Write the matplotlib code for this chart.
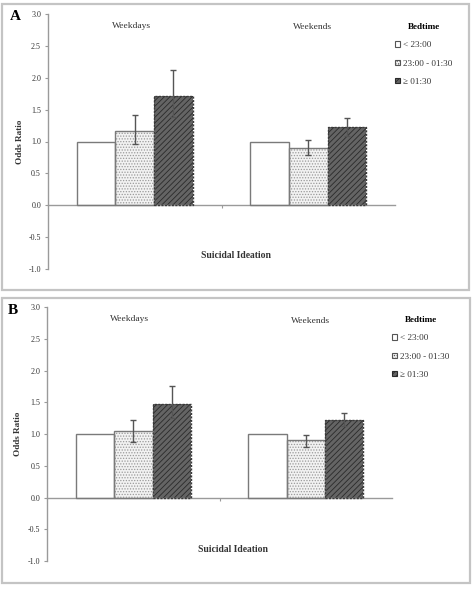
import matplotlib
matplotlib.use("Agg")
import matplotlib.pyplot as plt
from matplotlib.patches import Rectangle, Patch
import numpy as np

plt.rcParams['font.family'] = ['Liberation Serif', 'DejaVu Serif']
plt.rcParams['hatch.linewidth'] = 0.6

# ---- data ----
categories = ["Weekdays", "Weekends"]
bedtimes = ["< 23:00", "23:00 - 01:30", "\u2265 01:30"]
yticks = [-1.0, -0.5, 0.0, 0.5, 1.0, 1.5, 2.0, 2.5, 3.0]

# Panel A
a_or = [[1.00, 1.00], [1.17, 0.90], [1.71, 1.22]]
a_lo = [[None, None], [0.96, 0.79], [1.39, 1.08]]
a_hi = [[None, None], [1.41, 1.02], [2.12, 1.37]]
# Panel B
b_or = [[1.00, 1.00], [1.05, 0.90], [1.48, 1.23]]
b_lo = [[None, None], [0.88, 0.79], [1.25, 1.13]]
b_hi = [[None, None], [1.23, 0.99], [1.76, 1.34]]

W, H = 475, 590
fig = plt.figure(figsize=(W / 100, H / 100), dpi=100)

def fx(x):
    return x / W

def fy(y):
    return 1 - y / H

styles = [
    dict(facecolor="white", edgecolor="#7a7a7a", hatch=None),
    dict(facecolor="#f2f2f2", edgecolor="#9a9a9a", hatch="......"),
    dict(facecolor="#646464", edgecolor="#2a2a2a", hatch="//////"),
]

def panel(box, axpos, letter, letter_xy, vals, lo, hi, cat_xy, ylab_xy, xlab_xy, legend_xy):
    # border box
    x0, y0, x1, y1 = box
    fig.patches.append(Rectangle((fx(x0), fy(y1)), fx(x1 - x0), (y1 - y0) / H,
                                 transform=fig.transFigure, fill=False,
                                 edgecolor="#c4c4c4", linewidth=1.6, zorder=0))
    ax = fig.add_axes(axpos)
    ax.set_facecolor("none")
    xs = np.arange(len(categories))
    bw = 0.223
    for i in range(3):
        st = styles[i]
        pos = xs + (i - 1) * bw
        ax.bar(pos, vals[i], width=bw, color=st["facecolor"], edgecolor=st["edgecolor"],
               hatch=st["hatch"], linewidth=0, zorder=2)
        ax.bar(pos, vals[i], width=bw, fill=False,
               edgecolor="#7a7a7a" if i < 2 else "#3a3a3a",
               linewidth=1.0, linestyle="-" if i < 2 else (0, (1.5, 1)), zorder=3)
        if lo[i][0] is not None:
            l = np.array(lo[i], float)
            h = np.array(hi[i], float)
            v = np.array(vals[i], float)
            ax.errorbar(pos, v, yerr=[v - l, h - v], fmt="none", ecolor="#555555",
                        elinewidth=1.0, capsize=2, capthick=1.0, zorder=4)
    ax.set_xlim(-0.5, 1.5)
    ax.set_ylim(-1.0, 3.0)
    ax.set_yticks(yticks)
    ax.set_yticklabels([f"{t:.1f}" for t in yticks])
    ax.set_xticks([0.5])
    ax.set_xticklabels([])
    for s in ["top", "right"]:
        ax.spines[s].set_visible(False)
    ax.spines["bottom"].set_position(("data", 0))
    ax.spines["left"].set_color("#9a9a9a")
    ax.spines["bottom"].set_color("#9a9a9a")
    ax.spines["left"].set_linewidth(1.0)
    ax.spines["bottom"].set_linewidth(1.0)
    ax.tick_params(axis="y", length=2.5, width=0.8, color="#9a9a9a", labelsize=5.8,
                   labelcolor="#333333", pad=2.5)
    ax.tick_params(axis="x", length=2, width=0.8, color="#9a9a9a", direction="out")
    # labels
    fig.text(fx(letter_xy[0]), fy(letter_xy[1]), letter, fontsize=11, fontweight="bold",
             ha="center", va="center")
    for c, (cx, cy) in zip(categories, cat_xy):
        fig.text(fx(cx), fy(cy), c, fontsize=6.8, ha="center", va="center", color="#333333")
    fig.text(fx(ylab_xy[0]), fy(ylab_xy[1]), "Odds Ratio", fontsize=6.6, fontweight="bold",
             rotation=90, ha="center", va="center", color="#333333")
    fig.text(fx(xlab_xy[0]), fy(xlab_xy[1]), "Suicidal Ideation", fontsize=6.9,
             fontweight="bold", ha="center", va="center", color="#333333")
    handles = [Patch(facecolor=styles[i]["facecolor"], edgecolor=styles[i]["edgecolor"] if i == 2 else "#555555",
                     hatch=styles[i]["hatch"], linewidth=0.8) for i in range(3)]
    leg = fig.legend(handles, bedtimes, loc="upper left",
                     bbox_to_anchor=(fx(legend_xy[0]), fy(legend_xy[1])),
                     frameon=False, fontsize=6.6, title="Bedtime",
                     title_fontproperties={"weight": "bold", "size": 6.6},
                     handlelength=0.55, handleheight=0.55, handletextpad=0.35,
                     labelspacing=1.12, borderpad=0, borderaxespad=0)
    leg._legend_box.align = "center"
    for t in leg.get_texts():
        t.set_color("#333333")
    return ax

panel(box=(2, 4, 469, 290),
      axpos=[fx(48), fy(269), fx(395 - 48), (269 - 14) / H],
      letter="A", letter_xy=(15, 17), vals=a_or, lo=a_lo, hi=a_hi,
      cat_xy=[(132, 26), (313, 27)], ylab_xy=(20, 142), xlab_xy=(236, 256),
      legend_xy=(395, 23))

panel(box=(2, 298, 470, 583),
      axpos=[fx(47.3), fy(561), fx(392 - 47.3), (561 - 307.3) / H],
      letter="B", letter_xy=(13, 311), vals=b_or, lo=b_lo, hi=b_hi,
      cat_xy=[(130, 319), (311, 321)], ylab_xy=(18, 434), xlab_xy=(233, 549),
      legend_xy=(392, 316))

fig.savefig("out.png", dpi=100)
